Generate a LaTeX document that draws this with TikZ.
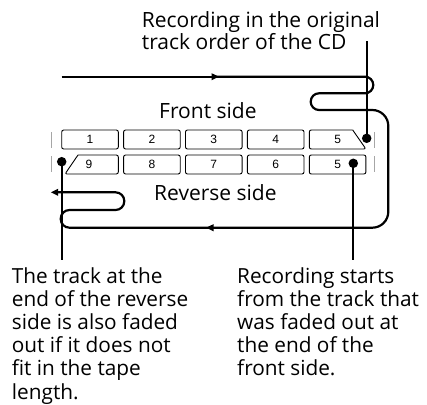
\documentclass[tikz,border=0pt]{standalone}
\usepackage{fontspec}
\setmainfont{Open Sans}
\newfontfamily\numfont{Liberation Sans}
\usetikzlibrary{arrows.meta}
\tikzset{
  tape/.style={line width=2.2pt},
  trackbox/.style={draw, line width=0.9pt, rounded corners=2pt},
  tick/.style={draw=gray!70, line width=1pt},
  dot/.style={circle, fill=black, inner sep=0pt, minimum size=9.5pt},
  num/.style={font=\numfont\fontsize{12}{12}\selectfont, inner sep=0pt},
  lbl/.style={font=\fontsize{21}{19.3}\selectfont, inner sep=0pt, align=left, anchor=base west},
  note/.style={font=\fontsize{20.8}{23.2}\selectfont, inner sep=0pt, align=left, anchor=base west},
  tip/.style={-{Triangle[length=7.5pt,width=6.5pt]}},
}
\begin{document}
\begin{tikzpicture}[x=1pt,y=-1pt]
\useasboundingbox (0,0) rectangle (427,404);
% texts (base anchor = last line)
\node[lbl] (title) at (141.7,49.3) {Recording in the original\\track order of the CD};
\node[lbl] (front) at (159,118.3) {Front side};
\node[lbl] (rev) at (154,200) {Reverse side};
\node[note] (nl) at (11.7,399) {The track at the\\end of the reverse\\side is also faded\\out if it does not\\fit in the tape\\length.};
\node[note] (nr) at (237,375.8) {Recording starts\\from the track that\\was faded out at\\the end of the\\front side.};
% ticks
\draw[tick] (51.7,132) -- (51.7,148) (51.7,156) -- (51.7,172);
\draw[tick] (374.3,132) -- (374.3,148) (374.3,156) -- (374.3,172);
% front row
\foreach \i/\n in {0/1,1/2,2/3,3/4}{
  \draw[trackbox] ({61.7+61.9*\i},130) rectangle ++(56.6,19);
  \node[num] (f\n) at ({61.7+61.9*\i+28.3},139.5) {\n};
}
\draw[trackbox] (352.7,130) -- (309.3,130) -- (309.3,149) -- (365.9,149) [sharp corners] -- (352.7,130);
\node[num] (f5) at (337.6,139.5) {5};
% reverse row
\foreach \i/\n in {1/8,2/7,3/6,4/5}{
  \draw[trackbox] ({61.7+61.9*\i},155) rectangle ++(56.6,19);
  \node[num] (r\n) at ({61.7+61.9*\i+28.3},164.5) {\n};
}
\draw[trackbox] (78,155) -- (118.3,155) -- (118.3,174) -- (65,174) [sharp corners] -- (78,155);
\node[num] (r9) at (89,164.5) {9};
% tape path
\draw[tape, tip] (61.7,76.7) -- (219,76.7);
\draw[tape, rounded corners=8.3pt] (215,76.7) -- (373.3,76.7) -- (373.3,93.3) -- (310.7,93.3) -- (310.7,110)
   [rounded corners=16pt] -- (388.3,110) -- (388.3,227.7) -- (212,227.7);
\draw[tape, tip] (230,227.7) -- (206,227.7);
\draw[tape, rounded corners=8.7pt] (212,227.7) -- (60.7,227.7) -- (60.7,210) -- (124.3,210) -- (124.3,192.3) -- (58,192.3);
\draw[tape, tip] (70,192.3) -- (50.7,192.3);
% dots and leaders
\node[dot] (d1) at (366.7,138.3) {};
\node[dot] (d2) at (61.7,161.7) {};
\node[dot] (d3) at (353.3,163.3) {};
\coordinate (e1) at (366.7,40.7);
\coordinate (e2) at (61.7,260);
\coordinate (e3) at (353.3,260);
\draw[tape] (d1.center) -- (e1);
\draw[tape] (d2.center) -- (e2);
\draw[tape] (d3.center) -- (e3);
\end{tikzpicture}
\end{document}
